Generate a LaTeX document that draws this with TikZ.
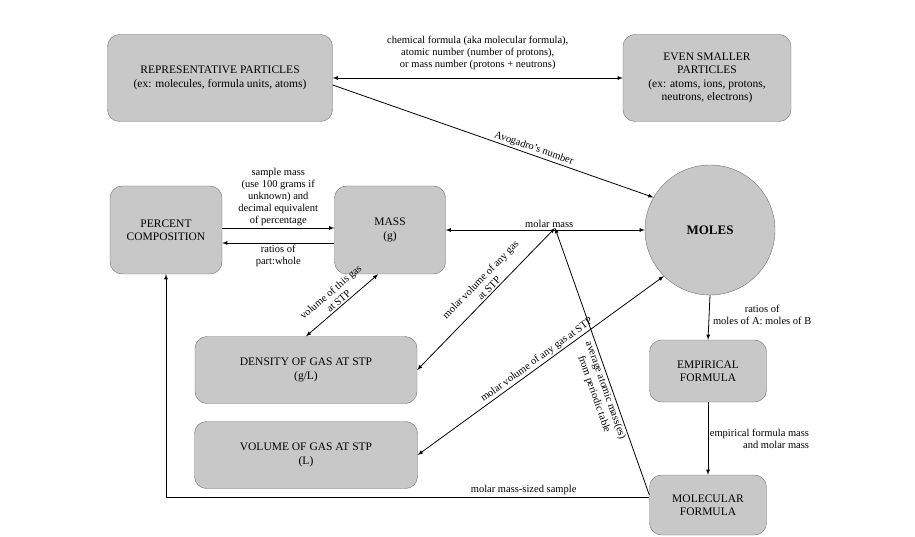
\documentclass[tikz,border=0pt]{standalone}
\usepackage{fontspec}
\setmainfont{Liberation Serif}
\usetikzlibrary{arrows, positioning}
\definecolor{boxfill}{HTML}{C8C8C8}
\definecolor{boxline}{HTML}{707070}
\tikzset{
  concept/.style={draw=boxline, fill=boxfill, rounded corners=12pt, align=center, font=\fontsize{11.5}{13.5}\selectfont, inner sep=2pt},
  link/.style={thick, latex-latex},
  tag/.style={font=\fontsize{10.5}{12}\selectfont, align=center, inner sep=1.5pt}
}
\begin{document}
\begin{tikzpicture}[x=1pt, y=-1pt]
\useasboundingbox (0,0) rectangle (915,537);
% Concepts
\node[concept, minimum width=225pt, minimum height=87pt] (rep) at (220,78) {REPRESENTATIVE PARTICLES\\(ex: molecules, formula units, atoms)};
\node[concept, minimum width=168pt, minimum height=87pt] (small) at (707,78) {EVEN SMALLER\\PARTICLES\\(ex: atoms, ions, protons,\\neutrons, electrons)};
\node[concept, minimum width=112pt, minimum height=88pt] (pct) at (166,230) {PERCENT\\COMPOSITION};
\node[concept, minimum width=111pt, minimum height=88pt] (mass) at (390,230) {MASS\\(g)};
\node[concept, circle, minimum size=130pt, font=\fontsize{13}{15}\selectfont\bfseries] (moles) at (710,230) {MOLES};
\node[concept, minimum width=222pt, minimum height=67pt] (dens) at (306,370) {DENSITY OF GAS AT STP\\(g/L)};
\node[concept, minimum width=223pt, minimum height=67pt] (vol) at (306,455) {VOLUME OF GAS AT STP\\(L)};
\node[concept, minimum width=117pt, minimum height=62pt] (emp) at (708,371) {EMPIRICAL\\FORMULA};
\node[concept, minimum width=117pt, minimum height=60pt] (mol) at (708,505) {MOLECULAR\\FORMULA};
\coordinate (hub) at (555,228);
\coordinate (corner) at (166,497);

% Connectors
\draw[link] (rep) -- node[tag, above=6pt] {chemical formula (aka molecular formula),\\atomic number (number of protons),\\or mass number (protons + neutrons)} (small);
\draw[thick, -latex] (rep.east |- 0,85) -- node[tag, sloped, above, pos=0.62] {Avogadro's number} (moles.150);
\draw[thick, -latex] (pct.east |- 0,228) -- node[tag, above] {sample mass\\(use 100 grams if\\unknown) and\\decimal equivalent\\of percentage} (mass.west |- 0,228);
\draw[thick, -latex] (mass.west |- 0,243) -- node[tag, below] {ratios of\\part:whole} (pct.east |- 0,243);
\draw[link] (mass.east) -- node[tag, above, pos=0.52] {molar mass} (moles.west);
\draw[link] (mass.255) -- node[tag, sloped, above, pos=0.5] {volume of this gas\\at STP} (dens.north);
\draw[link] (hub) -- node[tag, sloped, above, pos=0.45] {molar volume of any gas\\at STP} (dens.east);
\draw[link] (vol.east) -- node[tag, sloped, above, pos=0.5] {molar volume of any gas at STP} (moles.225);
\draw[thick, latex-] (hub) -- node[tag, sloped, below, pos=0.6] {average atomic mass(es)\\from periodic table} (mol.west |- 0,495);
\draw[thick, -latex] (mol.west |- 0,497) -- node[tag, above, pos=0.26] {molar mass-sized sample} (corner) -- (pct.south);
\draw[thick, -latex] (moles.south) -- node[tag, right=2pt, pos=0.45] {ratios of\\moles of A: moles of B} (emp.north);
\draw[thick, -latex] (emp.south) -- node[tag, right, align=right, pos=0.5] {empirical formula mass\\and molar mass} (mol.north);
\end{tikzpicture}
\end{document}
